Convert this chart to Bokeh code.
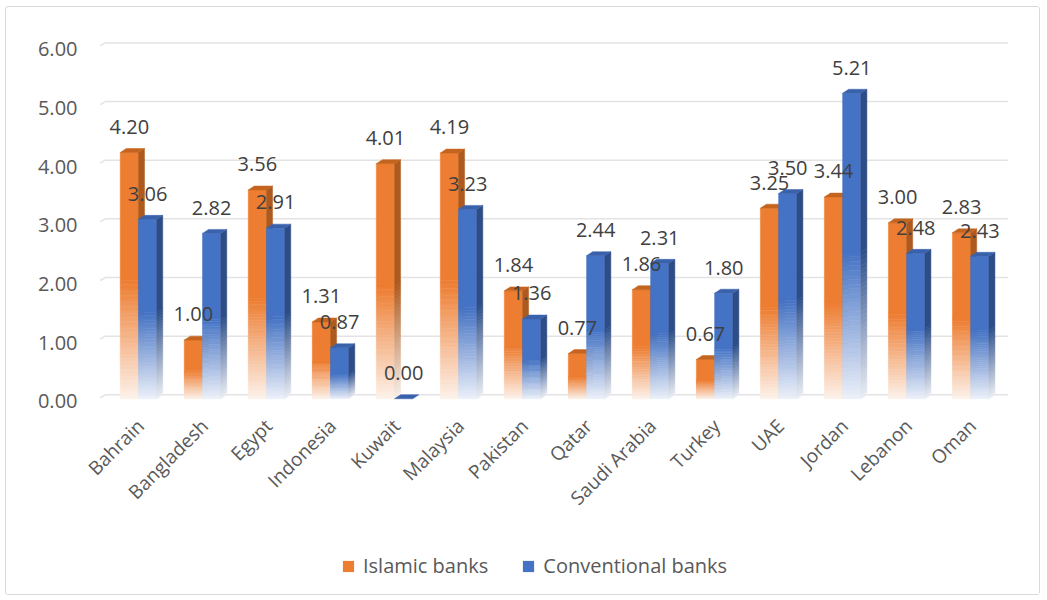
import math
from bokeh.plotting import figure
from bokeh.layouts import column
from bokeh.models import (Range1d, LinearAxis, FixedTicker, NumeralTickFormatter,
                          ColumnDataSource, Legend, LegendItem)
from bokeh.core.properties import value
from bokeh.embed import file_html
from bokeh.resources import INLINE

countries = ["Bahrain", "Bangladesh", "Egypt", "Indonesia", "Kuwait", "Malaysia", "Pakistan",
             "Qatar", "Saudi Arabia", "Turkey", "UAE", "Jordan", "Lebanon", "Oman"]
islamic = [4.20, 1.00, 3.56, 1.31, 4.01, 4.19, 1.84, 0.77, 1.86, 0.67, 3.25, 3.44, 3.00, 2.83]
conventional = [3.06, 2.82, 2.91, 0.87, 0.00, 3.23, 1.36, 2.44, 2.31, 1.80, 3.50, 5.21, 2.48, 2.43]
y_ticks = [0, 1, 2, 3, 4, 5, 6]

FONT = "Open Sans"
ORANGE, ORANGE_SIDE, ORANGE_TOP = "#ED7D31", "#AE5A1E", "#C4641F"
BLUE, BLUE_SIDE, BLUE_TOP = "#4472C4", "#2E4D86", "#3A62AC"

W = 0.285      # front face width (x units)
DX = 0.094     # depth offset x
DY = 0.068     # depth offset y
FADE = 0.48    # fraction of bar height that fades to white
NSTRIP = 32
TMIN = 0.10


def mix(hexc, t):
    r, g, b = int(hexc[1:3], 16), int(hexc[3:5], 16), int(hexc[5:7], 16)
    f = lambda c: int(round(255 - (255 - c) * t))
    return "#%02x%02x%02x" % (f(r), f(g), f(b))


xs, ys, cols = [], [], []


def add_poly(px, py, c):
    xs.append(px)
    ys.append(py)
    cols.append(c)


def add_bar(x0, v, base, side, top):
    x1 = x0 + W
    yb = -DY
    yt = v - DY
    if v > 0:
        split = yb + FADE * v
        for k in range(NSTRIP):
            ya = yb + FADE * v * k / NSTRIP
            yc = yb + FADE * v * (k + 1) / NSTRIP
            t = TMIN + (1 - TMIN) * (k + 0.5) / NSTRIP
            add_poly([x0, x1, x1, x0], [ya, ya, yc, yc], mix(base, t))
            add_poly([x1, x1 + DX, x1 + DX, x1], [ya, ya + DY, yc + DY, yc], mix(side, t))
        add_poly([x0, x1, x1, x0], [split, split, yt, yt], base)
        add_poly([x1, x1 + DX, x1 + DX, x1], [split, split + DY, yt + DY, yt], side)
    add_poly([x0, x0 + DX, x1 + DX, x1], [yt, yt + DY, yt + DY, yt], top)


for i in range(len(countries)):
    add_bar(i - 0.316, islamic[i], ORANGE, ORANGE_SIDE, ORANGE_TOP)
    add_bar(i - 0.031, conventional[i], BLUE, BLUE_SIDE, BLUE_TOP)

p = figure(frame_width=909, frame_height=387,
           x_range=Range1d(-0.64, 13.56), y_range=Range1d(-0.2, 6.4),
           output_backend="svg", toolbar_location=None,
           min_border_left=93, min_border_right=31, min_border_top=12, min_border_bottom=141,
           y_axis_location=None)
p.outline_line_color = None
p.xgrid.visible = False
p.ygrid.visible = False
p.background_fill_color = "white"
p.border_fill_color = "white"

# gridlines (back wall) with small 3D slant at the left
gx0 = [-0.55] * len(y_ticks)
gx1 = [13.56] * len(y_ticks)
p.segment(x0=gx0, y0=y_ticks, x1=gx1, y1=y_ticks, line_color="#e3e3e3", line_width=1.5)
p.segment(x0=[g - 0.078 for g in gx0], y0=[t - 0.051 for t in y_ticks], x1=gx0, y1=y_ticks,
          line_color="#e3e3e3", line_width=1.5)

src = ColumnDataSource(dict(xs=xs, ys=ys, c=cols))
p.patches("xs", "ys", source=src, fill_color="c", line_color="c", line_width=0.5)

# value labels
lab_x = [i - 0.316 + W / 2 for i in range(len(countries))] + \
        [i - 0.031 + W / 2 for i in range(len(countries))]
lab_y = [v + 0.37 for v in islamic] + [v + 0.37 for v in conventional]
lab_t = ["%.2f" % v for v in islamic] + ["%.2f" % v for v in conventional]
p.text(x=lab_x, y=lab_y, text=lab_t, text_font=value(FONT), text_font_size="20px",
       text_color="#404040", text_align="center", text_baseline="middle")

# axes
p.extra_y_ranges = {"lab": Range1d(-0.2 + 0.11, 6.4 + 0.11)}
yax = LinearAxis(y_range_name="lab", ticker=FixedTicker(ticks=y_ticks),
                 formatter=NumeralTickFormatter(format="0.00"))
yax.axis_line_color = None
yax.major_tick_line_color = None
yax.minor_tick_line_color = None
yax.major_label_standoff = 16
yax.major_label_text_font = FONT
yax.major_label_text_font_size = "20px"
yax.major_label_text_color = "#595959"
p.add_layout(yax, "left")

xax = p.xaxis[0]
xax.ticker = FixedTicker(ticks=list(range(len(countries))))
xax.major_label_overrides = {i: c for i, c in enumerate(countries)}
xax.major_label_orientation = math.pi / 4
xax.axis_line_color = None
xax.major_tick_line_color = None
xax.minor_tick_line_color = None
xax.major_label_standoff = 10
xax.major_label_text_font = FONT
xax.major_label_text_font_size = "19px"
xax.major_label_text_color = "#595959"

# legend in its own strip below the chart
lf = figure(width=1033, height=47, x_range=Range1d(0, 1), y_range=Range1d(0, 1),
            output_backend="svg", toolbar_location=None,
            min_border_left=0, min_border_right=0, min_border_top=0, min_border_bottom=0)
lf.axis.visible = False
lf.grid.visible = False
lf.outline_line_color = None
lf.background_fill_color = "white"
lf.border_fill_color = "white"
r_isl = lf.quad(left=[5], right=[6], top=[5], bottom=[4], fill_color=ORANGE, line_color=None)
r_con = lf.quad(left=[5], right=[6], top=[5], bottom=[4], fill_color=BLUE, line_color=None)
legend = Legend(items=[LegendItem(label="Islamic banks", renderers=[r_isl]),
                       LegendItem(label="Conventional banks", renderers=[r_con])],
                orientation="horizontal", location=(242, 15),
                label_text_font=FONT, label_text_font_size="20px", label_text_color="#595959",
                glyph_width=14, glyph_height=14, spacing=33, label_standoff=8,
                border_line_color=None, background_fill_alpha=0, margin=0, padding=0)
lf.add_layout(legend)

layout = column(p, lf, spacing=0,
                styles={"border": "1px solid #d9d9d9", "border-radius": "3px",
                        "margin-left": "5px", "margin-top": "6px", "background": "white"})

open("out.html", "w").write(file_html(layout, INLINE))
